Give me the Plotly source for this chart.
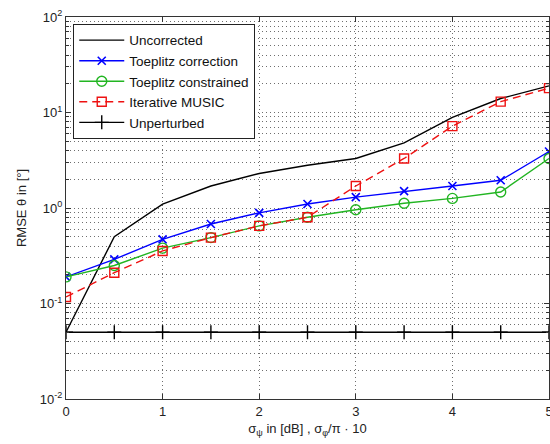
import plotly.graph_objects as go

x = [0, 0.5, 1, 1.5, 2, 2.5, 3, 3.5, 4, 4.5, 5]
uncorrected = [0.05, 0.5, 1.1, 1.7, 2.3, 2.8, 3.3, 4.8, 8.9, 14, 19]
toeplitz_corr = [0.19, 0.29, 0.47, 0.68, 0.89, 1.1, 1.3, 1.5, 1.7, 1.95, 3.9]
toeplitz_con = [0.19, 0.25, 0.38, 0.49, 0.65, 0.8, 0.96, 1.12, 1.26, 1.47, 3.3]
iter_music = [0.117, 0.21, 0.355, 0.49, 0.65, 0.8, 1.7, 3.3, 7.2, 13, 18]
unperturbed = [0.05] * 11

ytick_vals = [0.01, 0.1, 1, 10, 100]
ytick_text = ["10<sup>-2</sup>", "10<sup>-1</sup>", "10<sup>0</sup>", "10<sup>1</sup>", "10<sup>2</sup>"]
xtick_vals = [0, 1, 2, 3, 4, 5]

FONT = "Liberation Sans, Arial, sans-serif"
GRID = "rgb(110,110,110)"

fig = go.Figure()
fig.add_trace(go.Scatter(x=x, y=uncorrected, mode="lines", name="Uncorrected",
                         line=dict(color="black", width=1.4)))
fig.add_trace(go.Scatter(x=x, y=toeplitz_corr, mode="lines+markers", name="Toeplitz correction",
                         line=dict(color="#0000ff", width=1.4),
                         marker=dict(symbol="x-thin-open", size=8, line=dict(color="#0000ff", width=1.6))))
fig.add_trace(go.Scatter(x=x, y=toeplitz_con, mode="lines+markers", name="Toeplitz constrained",
                         line=dict(color="#22b522", width=1.4),
                         marker=dict(symbol="circle-open", size=10, color="#22b522", line=dict(color="#22b522", width=1.4))))
fig.add_trace(go.Scatter(x=x, y=iter_music, mode="lines+markers", name="Iterative MUSIC",
                         line=dict(color="#ee1111", width=1.4, dash="8px,5px"),
                         marker=dict(symbol="square-open", size=9, color="#ee1111", line=dict(color="#ee1111", width=1.4))))
fig.add_trace(go.Scatter(x=x, y=unperturbed, mode="lines+markers", name="Unperturbed",
                         line=dict(color="black", width=1.4),
                         marker=dict(symbol="cross-thin-open", size=10, line=dict(color="black", width=1.4))))

fig.update_layout(
    width=550, height=444,
    margin=dict(l=66, r=1, t=17, b=45, autoexpand=False),
    paper_bgcolor="white", plot_bgcolor="white",
    font=dict(family=FONT, size=13, color="#222"),
    showlegend=True,
    legend=dict(x=0.015, y=0.982, xanchor="left", yanchor="top",
                bgcolor="white", bordercolor="#222", borderwidth=1,
                font=dict(family=FONT, size=13.5, color="#111"),
                tracegroupgap=0, itemwidth=45),
)
fig.update_xaxes(
    range=[0, 5], tickvals=xtick_vals, ticks="inside", ticklen=5, tickcolor="#333",
    showline=True, linecolor="#333", linewidth=1, mirror="ticks",
    showgrid=True, gridcolor=GRID, griddash="1px,3px", gridwidth=1,
    zeroline=False, ticklabeloverflow="allow", automargin=False,
    tickfont=dict(family=FONT, size=13, color="#222"),
    title=dict(text="σ<sub>ψ</sub> in [dB] , σ<sub>φ</sub>/π · 10", standoff=6,
               font=dict(family=FONT, size=13, color="#222")),
)
fig.update_yaxes(
    type="log", range=[-2, 2], tickvals=ytick_vals, ticktext=ytick_text,
    ticks="inside", ticklen=5, tickcolor="#333",
    showline=True, linecolor="#333", linewidth=1, mirror="ticks",
    showgrid=True, gridcolor=GRID, griddash="1px,3px", gridwidth=1,
    minor=dict(ticks="inside", ticklen=3, tickcolor="#333", showgrid=True,
               gridcolor=GRID, griddash="1px,3px", gridwidth=1, dtick="D1"),
    zeroline=False, automargin=False,
    tickfont=dict(family=FONT, size=13, color="#222"),
    title=dict(text="RMSE θ in [°]", standoff=10,
               font=dict(family=FONT, size=13, color="#222")),
)

fig.write_html("out.html")
